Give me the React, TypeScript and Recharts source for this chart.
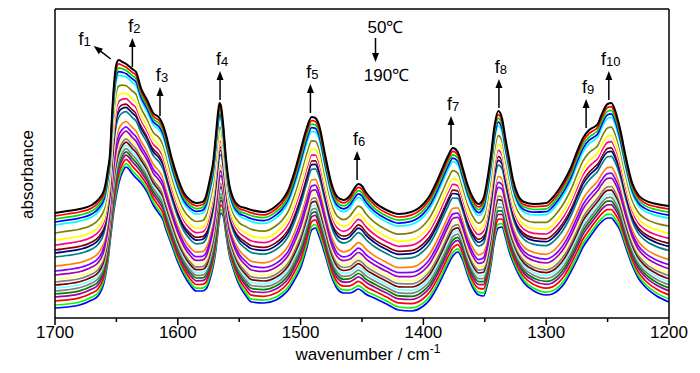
import React from 'react';
import { LineChart, Line, XAxis, YAxis, ReferenceDot } from 'recharts';

// wavenumbers (cm-1), read along the x axis
const wavenumbers = [
  1700, 1690, 1680, 1670, 1665, 1660, 1657, 1655, 1654, 1652,
  1650, 1648, 1645, 1642, 1640, 1637, 1634, 1630, 1625, 1620,
  1615, 1612, 1610, 1605, 1600, 1595, 1590, 1585, 1580, 1577,
  1574, 1571, 1569, 1567, 1566, 1565, 1563, 1561, 1558, 1555,
  1550, 1545, 1540, 1530, 1520, 1515, 1510, 1505, 1500, 1495,
  1491, 1488, 1485, 1480, 1475, 1470, 1465, 1460, 1456, 1453,
  1450, 1447, 1440, 1430, 1420, 1410, 1400, 1395, 1390, 1385,
  1380, 1376, 1372, 1368, 1364, 1360, 1355, 1351, 1348, 1345,
  1342, 1339, 1336, 1333, 1330, 1327, 1323, 1318, 1310, 1300,
  1295, 1290, 1285, 1280, 1275, 1270, 1265, 1261, 1258, 1255,
  1250, 1247, 1244, 1240, 1235, 1230, 1225, 1220, 1210, 1200,
];

// 50 °C spectrum (top, black)
const spectrum50 = [
  1.05, 1.07, 1.09, 1.13, 1.18, 1.28, 1.48, 1.68, 1.93, 2.33,
  2.54, 2.58, 2.56, 2.54, 2.52, 2.49, 2.46, 2.30, 2.18, 2.05,
  2.00, 1.93, 1.85, 1.60, 1.40, 1.25, 1.18, 1.15, 1.16, 1.22,
  1.38, 1.58, 1.83, 2.08, 2.15, 2.13, 1.93, 1.63, 1.33, 1.20,
  1.12, 1.10, 1.08, 1.06, 1.12, 1.18, 1.28, 1.46, 1.68, 1.90,
  2.01, 2.00, 1.93, 1.63, 1.35, 1.21, 1.18, 1.22, 1.30, 1.34,
  1.32, 1.26, 1.16, 1.08, 1.04, 1.06, 1.14, 1.22, 1.34, 1.48,
  1.62, 1.70, 1.66, 1.50, 1.33, 1.21, 1.14, 1.20, 1.38, 1.63,
  1.93, 2.07, 2.00, 1.78, 1.58, 1.38, 1.23, 1.16, 1.14, 1.15,
  1.20, 1.28, 1.38, 1.50, 1.66, 1.80, 1.88, 1.91, 1.94, 2.03,
  2.14, 2.15, 2.08, 1.90, 1.60, 1.35, 1.23, 1.18, 1.14, 1.12,
];

// 190 °C spectrum (bottom, blue)
const spectrum190 = [
  0.10, 0.11, 0.13, 0.18, 0.22, 0.36, 0.56, 0.78, 0.88, 1.08,
  1.23, 1.35, 1.46, 1.51, 1.49, 1.44, 1.40, 1.35, 1.26, 1.13,
  1.04, 0.98, 0.90, 0.73, 0.56, 0.43, 0.33, 0.27, 0.27, 0.29,
  0.38, 0.53, 0.68, 0.90, 1.01, 1.05, 1.02, 0.86, 0.63, 0.50,
  0.33, 0.23, 0.16, 0.15, 0.18, 0.22, 0.28, 0.38, 0.50, 0.70,
  0.88, 0.90, 0.82, 0.63, 0.42, 0.29, 0.25, 0.25, 0.27, 0.29,
  0.27, 0.24, 0.20, 0.14, 0.08, 0.07, 0.12, 0.18, 0.28, 0.40,
  0.53, 0.62, 0.66, 0.58, 0.43, 0.31, 0.23, 0.22, 0.33, 0.53,
  0.78, 0.90, 0.91, 0.80, 0.66, 0.56, 0.45, 0.35, 0.27, 0.23,
  0.24, 0.28, 0.35, 0.46, 0.58, 0.71, 0.80, 0.87, 0.92, 0.96,
  1.00, 1.00, 0.96, 0.88, 0.70, 0.53, 0.40, 0.32, 0.22, 0.16,
];

// temperatures, top line to bottom line
const temperatures = [
  50, 55, 60, 65, 70, 75, 80, 85, 90, 95, 100, 105, 110, 115, 120,
  125, 130, 135, 140, 145, 150, 155, 160, 165, 170, 175, 180, 185, 190,
];

// absorbance of each line at 1700 cm-1 (left edge)
const edgeLevels = [
  1.05, 1.02, 0.99, 0.96, 0.93, 0.89, 0.85, 0.815, 0.78, 0.755, 0.73, 0.705, 0.68, 0.65, 0.61,
  0.56, 0.52, 0.47, 0.43, 0.39, 0.36, 0.33, 0.30, 0.27, 0.24, 0.21, 0.17, 0.13, 0.10,
];

const lineColors = [
  '#000000', '#ff0000', '#00dd00', '#0000ff', '#00ffff', '#ffffff', '#808000', '#ffffff',
  '#ffff00', '#ffffff', '#ff0080', '#ffffff', '#800000', '#000080', '#008080', '#ffffff',
  '#ff8000', '#8000ff', '#a000c0', '#ffff80', '#808080', '#800000', '#80ffff', '#808080',
  '#008000', '#a000a0', '#ff0000', '#00ff00', '#0000ff',
];

const xTicks = [1700, 1650, 1600, 1550, 1500, 1450, 1400, 1350, 1300, 1250, 1200];

// peak markers f1..f10: wavenumber and absorbance where the arrow starts
const peakNames = ['1', '2', '3', '4', '5', '6', '7', '8', '9', '10'];
const peakWn = [1653, 1637, 1614.5, 1565.6, 1492, 1454, 1377.5, 1338.5, 1267.5, 1249];
const peakAbs = [2.58, 2.51, 2.02, 2.18, 2.05, 1.38, 1.73, 2.10, 1.90, 2.18];

const top = edgeLevels[0];
const bottom = edgeLevels[edgeLevels.length - 1];

const chartData = wavenumbers.map((wn, k) => {
  const row: any = { wn };
  temperatures.forEach((t, i) => {
    const w = (edgeLevels[i] - bottom) / (top - bottom);
    row['t' + t] = +(spectrum190[k] + (spectrum50[k] - spectrum190[k]) * w).toFixed(3);
  });
  return row;
});

const FONT = '"Liberation Sans", Arial, sans-serif';

const WaveTick = (props: any) => {
  const { x, y, payload } = props;
  const major = payload.value % 100 === 0;
  return (
    <g>
      <line x1={x} y1={y} x2={x} y2={y + (major ? 7 : 4)} stroke="#000" strokeWidth={1.5} />
      {major && (
        <text x={x} y={y + 20} textAnchor="middle" fontSize={17} fontFamily={FONT} fill="#000">
          {payload.value}
        </text>
      )}
    </g>
  );
};

const Arrow = ({ x1, y1, x2, y2 }: { x1: number; y1: number; x2: number; y2: number }) => {
  const dx = x2 - x1;
  const dy = y2 - y1;
  const len = Math.sqrt(dx * dx + dy * dy);
  const ux = dx / len;
  const uy = dy / len;
  const bx = x2 - ux * 9;
  const by = y2 - uy * 9;
  const pts = `${x2},${y2} ${bx - uy * 3.5},${by + ux * 3.5} ${bx + uy * 3.5},${by - ux * 3.5}`;
  return (
    <g>
      <line x1={x1} y1={y1} x2={bx} y2={by} stroke="#000" strokeWidth={1.5} />
      <polygon points={pts} fill="#000" />
    </g>
  );
};

const peakShape = (name: string) => (props: any) => {
  const { cx, cy } = props;
  if (name === '1') {
    const hx = cx - 19;
    const hy = cy - 14;
    return (
      <g>
        <Arrow x1={cx - 2} y1={cy - 1} x2={hx} y2={hy} />
        <text x={hx - 3} y={hy - 1} textAnchor="end" fontSize={18} fontFamily={FONT} fill="#000">
          f<tspan fontSize={13} dy={1}>{name}</tspan>
        </text>
      </g>
    );
  }
  const hy = cy - 29;
  return (
    <g>
      <Arrow x1={cx} y1={cy} x2={cx} y2={hy} />
      <text x={cx + 2} y={hy - 6} textAnchor="middle" fontSize={18} fontFamily={FONT} fill="#000">
        f<tspan fontSize={13} dy={1}>{name}</tspan>
      </text>
    </g>
  );
};

const tempShape = (props: any) => {
  const { cx, cy } = props;
  return (
    <g>
      <text x={cx + 10} y={cy - 5} textAnchor="middle" fontSize={17} fontFamily={FONT} fill="#000">50℃</text>
      <Arrow x1={cx} y1={cy} x2={cx} y2={cy + 24} />
      <text x={cx + 11} y={cy + 43} textAnchor="middle" fontSize={17} fontFamily={FONT} fill="#000">190℃</text>
    </g>
  );
};

const XLabel = (props: any) => {
  const { viewBox } = props;
  return (
    <text x={viewBox.x + viewBox.width / 2 + 6} y={viewBox.y + 42} textAnchor="middle" fontSize={17} fontFamily={FONT} fill="#000">
      wavenumber / cm<tspan fontSize={12} dy={-7}>-1</tspan>
    </text>
  );
};

const YLabel = (props: any) => {
  const { viewBox } = props;
  const x = viewBox.x + viewBox.width - 22;
  const y = viewBox.y + viewBox.height / 2 + 11;
  return (
    <text x={x} y={y} transform={`rotate(-90, ${x}, ${y})`} textAnchor="middle" fontSize={17} fontFamily={FONT} fill="#000">
      absorbance
    </text>
  );
};

export default function App() {
  const axisLine = { stroke: '#000', strokeWidth: 1.5 };
  const drawOrder = temperatures.map((t, i) => i).reverse();
  return (
    <div style={{ position: 'absolute', left: 0, top: 0, background: '#fff' }}>
      <LineChart width={700} height={373} data={chartData} margin={{ top: 0, right: 0, left: 0, bottom: 0 }}>
        <XAxis
          dataKey="wn"
          type="number"
          domain={[1200, 1700]}
          reversed
          ticks={xTicks}
          interval={0}
          tick={<WaveTick />}
          tickLine={false}
          tickSize={0}
          tickMargin={0}
          axisLine={axisLine}
          height={55}
          label={{ content: <XLabel /> }}
        />
        <XAxis xAxisId="top" orientation="top" dataKey="wn" type="number" domain={[1200, 1700]} reversed tick={false} tickLine={false} axisLine={axisLine} height={9} />
        <YAxis type="number" domain={[0, 3.09]} tick={false} tickLine={false} axisLine={axisLine} width={55} label={{ content: <YLabel /> }} />
        <YAxis yAxisId="right" orientation="right" type="number" domain={[0, 3.09]} tick={false} tickLine={false} axisLine={axisLine} width={31} />
        {drawOrder.map((i) => (
          <Line
            key={temperatures[i]}
            type="monotone"
            dataKey={'t' + temperatures[i]}
            stroke={lineColors[i]}
            strokeWidth={i === 0 ? 2 : 1.7}
            dot={false}
            isAnimationActive={false}
          />
        ))}
        {peakNames.map((name, i) => (
          <ReferenceDot key={name} x={peakWn[i]} y={peakAbs[i]} r={0} shape={peakShape(name)} ifOverflow="visible" />
        ))}
        <ReferenceDot x={1439} y={2.8} r={0} shape={tempShape} ifOverflow="visible" />
      </LineChart>
    </div>
  );
}
